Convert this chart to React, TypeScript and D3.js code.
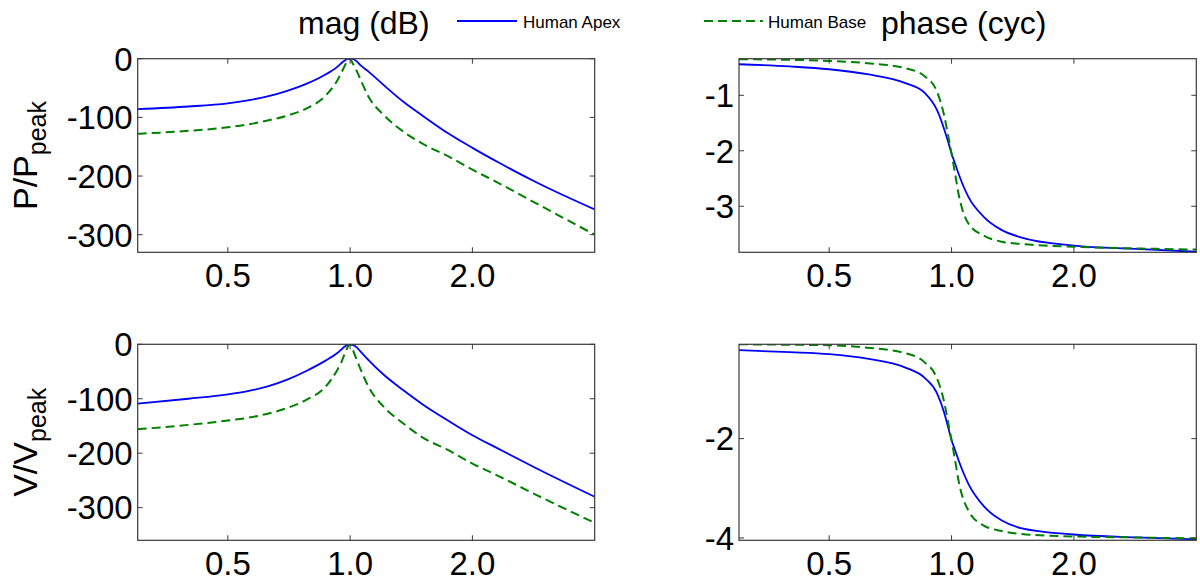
import React from "react";
import * as d3 from "d3";

// ---------- data ----------
const freqMag = [0.3, 0.4, 0.5, 0.56, 0.63, 0.7, 0.78, 0.87, 0.93, 0.95, 0.97, 0.985, 1.0, 1.015, 1.04, 1.06, 1.11, 1.21, 1.35, 1.5, 1.75, 2.0, 2.32, 2.88, 4.0];
const pApexMag = [-86, -81.5, -76, -71, -64, -55, -43, -27, -14, -8, -3, -0.5, 0, -0.5, -5, -11, -22, -45, -73, -96, -128, -152, -177, -211, -257];
const pBaseMag = [-128, -123, -117, -112, -105, -97, -85, -63, -37, -25, -12, -4, 0, -8, -22, -35, -65, -96, -124, -144, -167, -189, -212, -247, -300];
const vApexMag = [-109, -100, -92, -86, -77, -65, -49, -30, -16, -10, -4, -1, 0, -1, -6, -13, -29, -56, -84, -109, -141, -167, -192, -228, -280];
const vBaseMag = [-156, -148, -140, -135, -127, -117, -102, -78, -47, -34, -17, -6, 0, -10, -30, -45, -78, -115, -145, -170, -195, -219, -242, -277, -328];

const freqPhase = [0.3, 0.4, 0.5, 0.62, 0.77, 0.86, 0.92, 0.96, 0.98, 1.0, 1.02, 1.04, 1.1, 1.2, 1.33, 1.48, 2.0, 2.84, 4.0];
const pApexPhase = [-0.44, -0.48, -0.53, -0.62, -0.78, -0.96, -1.26, -1.62, -1.83, -2.05, -2.23, -2.41, -2.83, -3.19, -3.43, -3.56, -3.71, -3.77, -3.82];
const pBasePhase = [-0.35, -0.36, -0.38, -0.42, -0.51, -0.66, -0.93, -1.38, -1.71, -2.05, -2.41, -2.77, -3.31, -3.53, -3.64, -3.68, -3.73, -3.76, -3.78];
const vApexPhase = [-0.22, -0.26, -0.3, -0.39, -0.57, -0.78, -1.08, -1.49, -1.76, -2.03, -2.23, -2.43, -2.91, -3.36, -3.65, -3.8, -3.93, -3.99, -4.03];
const vBasePhase = [-0.1, -0.11, -0.12, -0.17, -0.28, -0.47, -0.78, -1.28, -1.66, -2.03, -2.43, -2.84, -3.45, -3.75, -3.86, -3.92, -3.97, -3.99, -4.01];

const xDomain = [0.3, 4.0];
const xTicks = [0.5, 1.0, 2.0];
const xTickLabels = ["0.5", "1.0", "2.0"];
const magTicks = [0, -100, -200, -300];
const phaseTicksTop = [-1, -2, -3];
const phaseTicksBottom = [-2, -4];
const seriesNames = ["Human Apex", "Human Base"];
const titles = ["mag (dB)", "phase (cyc)"];

// ---------- styles ----------
const FONT = "'Liberation Sans', Arial, Helvetica, sans-serif";
const BLUE = "#0000ff";
const GREEN = "#008000";
const AXIS = "#3a3a3a";
const TICK_FS = 33;

type Series = { freq: number[]; vals: number[]; color: string; dash?: string; width: number };

function Panel(props: {
  x0: number; x1: number; y0: number; y1: number;
  yDomain: [number, number]; yTicks: number[]; series: Series[]; id: string;
}) {
  const { x0, x1, y0, y1, yDomain, yTicks, series, id } = props;
  const x = d3.scaleLog().domain(xDomain).range([x0, x1]);
  const y = d3.scaleLinear().domain(yDomain).range([y1, y0]);
  const tl = 5;
  return (
    <g>
      <defs>
        <clipPath id={id}>
          <rect x={x0} y={y0} width={x1 - x0} height={y1 - y0} />
        </clipPath>
      </defs>
      <g clipPath={`url(#${id})`}>
        {series.map((s, i) => {
          const line = d3
            .line<number>()
            .x((_, k) => x(s.freq[k]))
            .y((v) => y(v))
            .curve(d3.curveMonotoneX);
          return (
            <path key={i} d={line(s.vals) || ""} fill="none" stroke={s.color}
              strokeWidth={s.width} strokeDasharray={s.dash} />
          );
        })}
      </g>
      <rect x={x0} y={y0} width={x1 - x0} height={y1 - y0} fill="none" stroke={AXIS} strokeWidth={1.2} />
      {xTicks.map((t, i) => (
        <g key={"xt" + i}>
          <line x1={x(t)} x2={x(t)} y1={y1} y2={y1 - tl} stroke={AXIS} />
          <line x1={x(t)} x2={x(t)} y1={y0} y2={y0 + tl} stroke={AXIS} />
          <text x={x(t)} y={y1 + 35} textAnchor="middle" fontFamily={FONT} fontSize={TICK_FS} fill="#000">
            {xTickLabels[i]}
          </text>
        </g>
      ))}
      {yTicks.map((t, i) => (
        <g key={"yt" + i}>
          <line x1={x0} x2={x0 + tl} y1={y(t)} y2={y(t)} stroke={AXIS} />
          <line x1={x1} x2={x1 - tl} y1={y(t)} y2={y(t)} stroke={AXIS} />
          <text x={x0 - 5} y={y(t) + 11.8} textAnchor="end" fontFamily={FONT} fontSize={TICK_FS} fill="#000">
            {String(t)}
          </text>
        </g>
      ))}
    </g>
  );
}

export default function App() {
  const L = [137.7, 594.7];
  const R = [739, 1196.3];
  const T = [58.7, 252.3];
  const B = [344.3, 540.3];
  return (
    <svg width={1200} height={584} style={{ position: "absolute", left: 0, top: 0, background: "#fff" }}>
      <rect x={0} y={0} width={1200} height={584} fill="#fff" />
      {/* titles */}
      <text x={298} y={34} fontFamily={FONT} fontSize={32} fill="#000">{titles[0]}</text>
      <text x={881} y={34} fontFamily={FONT} fontSize={32} fill="#000">{titles[1]}</text>
      {/* legend */}
      <line x1={457} x2={517} y1={21} y2={21} stroke={BLUE} strokeWidth={1.8} />
      <text x={523} y={28} fontFamily={FONT} fontSize={17} fill="#000">{seriesNames[0]}</text>
      <line x1={704} x2={763} y1={21} y2={21} stroke={GREEN} strokeWidth={2} strokeDasharray="9,5" />
      <text x={768} y={28} fontFamily={FONT} fontSize={17} fill="#000">{seriesNames[1]}</text>

      <Panel id="c1" x0={L[0]} x1={L[1]} y0={T[0]} y1={T[1]} yDomain={[-330, 0]} yTicks={magTicks}
        series={[
          { freq: freqMag, vals: pApexMag, color: BLUE, width: 1.8 },
          { freq: freqMag, vals: pBaseMag, color: GREEN, width: 2, dash: "9,5" },
        ]} />
      <Panel id="c2" x0={R[0]} x1={R[1]} y0={T[0]} y1={T[1]} yDomain={[-3.83, -0.34]} yTicks={phaseTicksTop}
        series={[
          { freq: freqPhase, vals: pApexPhase, color: BLUE, width: 1.8 },
          { freq: freqPhase, vals: pBasePhase, color: GREEN, width: 2, dash: "9,5" },
        ]} />
      <Panel id="c3" x0={L[0]} x1={L[1]} y0={B[0]} y1={B[1]} yDomain={[-360, 0]} yTicks={magTicks}
        series={[
          { freq: freqMag, vals: vApexMag, color: BLUE, width: 1.8 },
          { freq: freqMag, vals: vBaseMag, color: GREEN, width: 2, dash: "9,5" },
        ]} />
      <Panel id="c4" x0={R[0]} x1={R[1]} y0={B[0]} y1={B[1]} yDomain={[-4.047, -0.101]} yTicks={phaseTicksBottom}
        series={[
          { freq: freqPhase, vals: vApexPhase, color: BLUE, width: 1.8 },
          { freq: freqPhase, vals: vBasePhase, color: GREEN, width: 2, dash: "9,5" },
        ]} />

      {/* y labels */}
      <g transform={`translate(37, ${(T[0] + T[1]) / 2}) rotate(-90)`}>
        <text textAnchor="middle" fontFamily={FONT} fontSize={34} fill="#000">
          P/P<tspan fontSize={25} dy={9}>peak</tspan>
        </text>
      </g>
      <g transform={`translate(37, ${(B[0] + B[1]) / 2}) rotate(-90)`}>
        <text textAnchor="middle" fontFamily={FONT} fontSize={34} fill="#000">
          V/V<tspan fontSize={25} dy={9}>peak</tspan>
        </text>
      </g>
    </svg>
  );
}
